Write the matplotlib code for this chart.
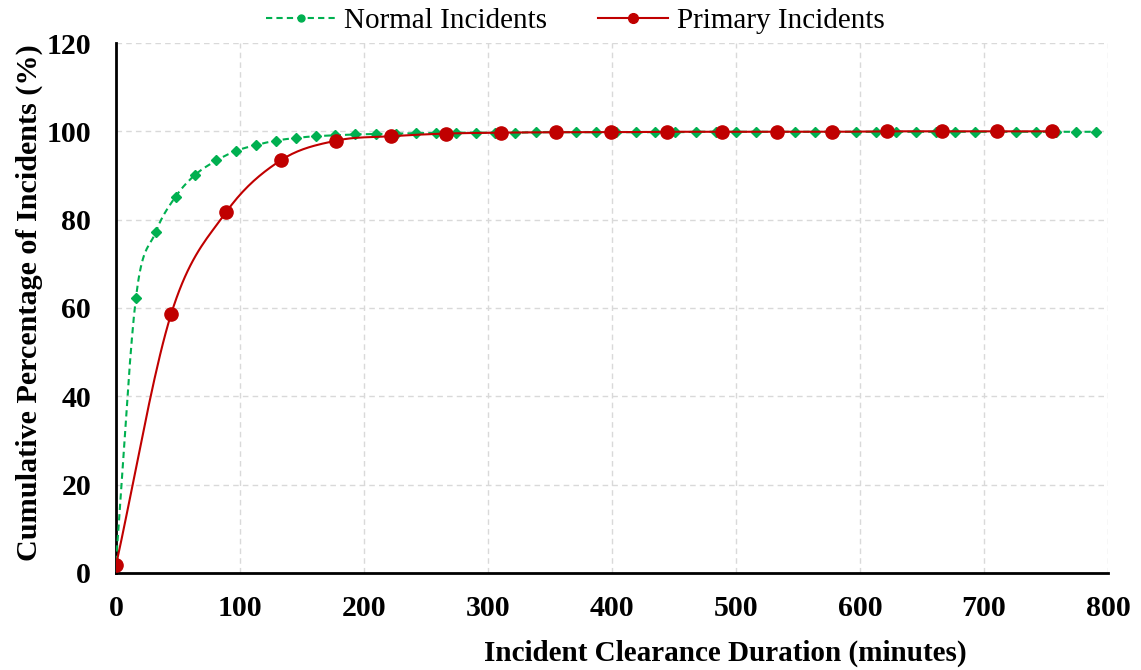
import numpy as np
import matplotlib
matplotlib.use("Agg")
import matplotlib.pyplot as plt

# clearance duration (minutes) and cumulative percentage
normal_x = [0, 16, 32, 48, 64, 81, 97, 113, 129, 145, 161, 177, 193, 210, 226,
            242, 258, 274, 290, 306, 322, 339, 355, 371, 387, 403, 419, 435,
            451, 468, 484, 500, 516, 532, 548, 564, 580, 597, 613, 629, 645,
            661, 677, 693, 709, 726, 742, 758, 774, 790]
normal_y = [2.5, 62.2, 77.2, 85.2, 90.2, 93.4, 95.6, 96.9, 97.9, 98.5, 98.9,
            99.1, 99.3, 99.4, 99.5, 99.6, 99.6, 99.7, 99.7, 99.7, 99.7, 99.8,
            99.8, 99.8, 99.8, 99.8, 99.8, 99.8, 99.8, 99.9, 99.9, 99.9, 99.9,
            99.9, 99.9, 99.9, 99.9, 99.9, 99.9, 99.9, 99.9, 99.9, 99.9, 99.9,
            99.9, 99.9, 99.9, 99.9, 99.9, 99.9]

primary_x = [0, 44.4, 88.8, 133.2, 177.6, 222, 266.4, 310.8, 355.2, 399.6,
             444, 488.4, 532.8, 577.2, 621.6, 666, 710.4, 754.8]
primary_y = [1.8, 58.6, 81.7, 93.5, 97.9, 98.9, 99.5, 99.7, 99.8, 99.8, 99.9,
             99.9, 99.9, 99.9, 100, 100, 100, 100]

x_ticks = [0, 100, 200, 300, 400, 500, 600, 700, 800]
y_ticks = [0, 20, 40, 60, 80, 100, 120]


def smooth(xs, ys, n=20):
    # catmull-rom curve through the points, like excel's smoothed line
    xs = np.asarray(xs, float)
    ys = np.asarray(ys, float)
    px = np.concatenate([[2 * xs[0] - xs[1]], xs, [2 * xs[-1] - xs[-2]]])
    py = np.concatenate([[2 * ys[0] - ys[1]], ys, [2 * ys[-1] - ys[-2]]])
    ox, oy = [], []
    t = np.linspace(0, 1, n, endpoint=False)
    for i in range(1, len(px) - 2):
        for p, o in ((px, ox), (py, oy)):
            p0, p1, p2, p3 = p[i - 1], p[i], p[i + 1], p[i + 2]
            o.extend(0.5 * (2 * p1 + (-p0 + p2) * t
                            + (2 * p0 - 5 * p1 + 4 * p2 - p3) * t ** 2
                            + (-p0 + 3 * p1 - 3 * p2 + p3) * t ** 3))
    ox.append(xs[-1])
    oy.append(ys[-1])
    return ox, oy


plt.rcParams['font.family'] = ['Liberation Serif', 'DejaVu Serif']

fig = plt.figure(figsize=(11.41, 6.7), dpi=100)
ax = fig.add_axes([0.1017, 0.1448, 0.8693, 0.791])

green = '#00b050'
red = '#c00000'

sx, sy = smooth(normal_x, normal_y)
ax.plot(sx, sy, color=green, lw=1.5, dashes=(3, 2), zorder=3)
ax.plot(normal_x, normal_y, ls='none', marker='D', ms=5.5, color=green, zorder=4)
ax.plot([], [], color=green, lw=1.5, dashes=(3, 2), marker='o', ms=5,
        label='Normal Incidents')

sx, sy = smooth(primary_x, primary_y)
ax.plot(sx, sy, color=red, lw=1.5, zorder=5)
ax.plot(primary_x, primary_y, ls='none', marker='o', ms=9.5, color=red, zorder=6)
ax.plot([], [], color=red, lw=1.5, marker='o', ms=7, label='Primary Incidents')

ax.set_xlim(0, 800)
ax.set_ylim(0, 120)
ax.set_xticks(x_ticks)
ax.set_yticks(y_ticks)
ax.tick_params(length=0, labelsize=21.5)
ax.tick_params(axis='x', pad=16)
ax.tick_params(axis='y', pad=18)
for lab in ax.get_xticklabels() + ax.get_yticklabels():
    lab.set_fontweight('bold')

ax.grid(True, color='#d9d9d9', ls=(0, (4, 3)), lw=1)
ax.set_axisbelow(True)
for s in ('top', 'right'):
    ax.spines[s].set_visible(False)
for s in ('left', 'bottom'):
    ax.spines[s].set_linewidth(2)
    ax.spines[s].set_color('black')

ax.set_xlabel('Incident Clearance Duration (minutes)', fontsize=21,
              fontweight='bold')
ax.xaxis.set_label_coords(0.614, -0.152, transform=ax.transAxes)
ax.xaxis.label.set_va('center')
ax.set_ylabel('Cumulative Percentage of Incidents (%)', fontsize=21.7,
              fontweight='bold')
ax.yaxis.set_label_coords(-0.0877, 0.51, transform=ax.transAxes)
ax.yaxis.label.set_va('center')

ax.legend(loc='center', bbox_to_anchor=(0.463, 1.041), ncol=2,
          frameon=False, fontsize=21, handlelength=2.4, columnspacing=1.75,
          borderaxespad=0, borderpad=0, handletextpad=0.3)

fig.savefig('out.png', dpi=100)
